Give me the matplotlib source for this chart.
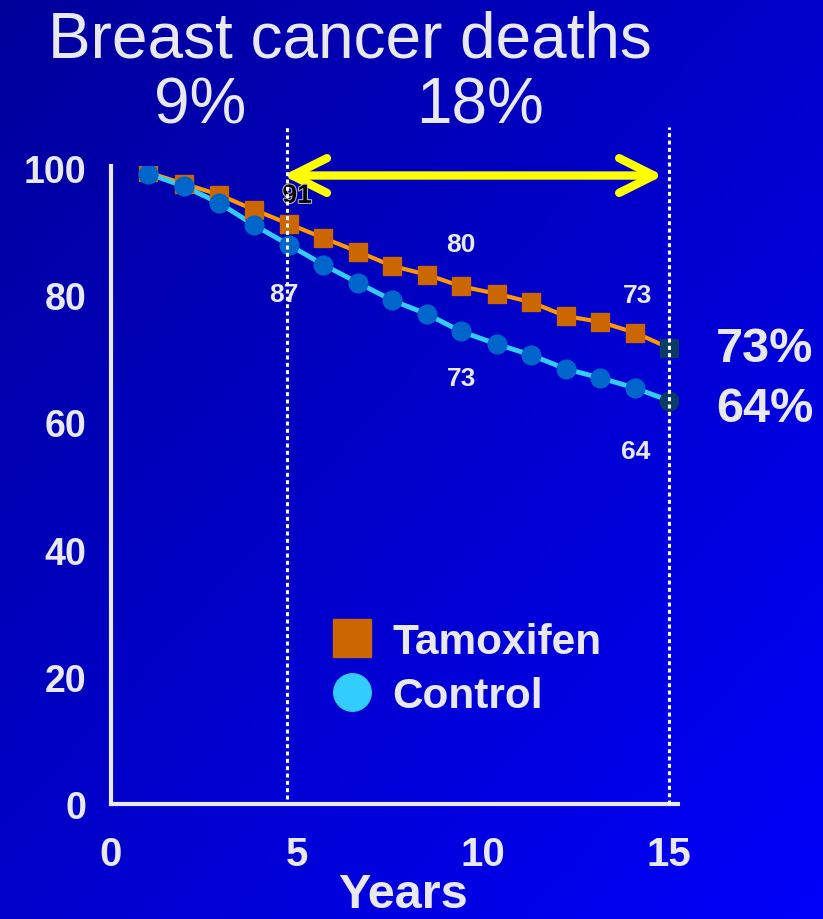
import numpy as np
import matplotlib
matplotlib.use('Agg')
import matplotlib.pyplot as plt
import matplotlib.patheffects as pe
from matplotlib.lines import Line2D

plt.rcParams['font.family'] = ['Liberation Sans', 'DejaVu Sans']

# ============================================
# Data
# ============================================
years = [0.99, 1.96, 2.9, 3.85, 4.78, 5.7, 6.65, 7.55, 8.5, 9.4,
         10.37, 11.28, 12.22, 13.14, 14.08, 15.0]
tamoxifen = [99.3, 97.5, 95.8, 93.4, 91.2, 89.0, 86.8, 84.6, 83.2, 81.4,
             80.2, 78.9, 76.7, 75.8, 74.1, 71.7]
control = [99.1, 97.1, 94.5, 91.0, 87.9, 84.8, 81.9, 79.2, 77.0, 74.3,
           72.3, 70.6, 68.4, 67.0, 65.4, 63.4]

x_ticks = [0, 5, 10, 15]
y_ticks = [0, 20, 40, 60, 80, 100]
cutoff_years = [4.73, 15.0]

point_labels = ['91', '87', '80', '73', '73', '64']
point_label_x = [5.0, 4.65, 9.41, 9.41, 14.14, 14.11]
point_label_y = [95.6, 80.2, 88.1, 67.0, 80.0, 55.5]

final_pct = ['73%', '64%']
period_pct = ['9%', '18%']

TXT = '#E8E8EE'
ORANGE_LINE, ORANGE_MK = '#FF9900', '#CC6600'
CYAN_LINE, CYAN_MK = '#33CCFF', '#0066CC'
NAVY = '#0A3A66'

# ============================================
# Figure + gradient background
# ============================================
fig = plt.figure(figsize=(8.23, 9.2), dpi=100)

bg = fig.add_axes([0, 0, 1, 1])
gx, gy = np.meshgrid(np.linspace(0, 1, 300), np.linspace(0, 1, 300))
t = (gx + gy) / 2
grad = np.zeros((300, 300, 3))
grad[..., 2] = (155 + 95 * t) / 255
bg.imshow(grad, aspect='auto', extent=[0, 1, 0, 1])
bg.set_axis_off()

ax = fig.add_axes([0.1349, 0.125, 0.689, 0.6935])
ax.patch.set_alpha(0)

# lines + markers (last point drawn dark)
ax.plot(years, tamoxifen, color=ORANGE_LINE, lw=3, zorder=3)
ax.plot(years[:-1], tamoxifen[:-1], 's', color=ORANGE_MK, ms=13, zorder=4)
ax.plot(years[-1:], tamoxifen[-1:], 's', color=NAVY, ms=13, zorder=4)
ax.plot(years, control, color=CYAN_LINE, lw=3.5, zorder=3)
ax.plot(years[:-1], control[:-1], 'o', color=CYAN_MK, ms=13.5, zorder=4)
ax.plot(years[-1:], control[-1:], 'o', color=NAVY, ms=13.5, zorder=4)

# dotted cut-off lines
ax.plot([cutoff_years[0]] * 2, [0.8, 106.5], color='white', lw=2.2,
        dashes=(1.3, 1.1), clip_on=False, zorder=6)
ax.plot([cutoff_years[1]] * 2, [0, 106.5], color='white', lw=2.2,
        dashes=(1.3, 1.1), clip_on=False, zorder=6)

# yellow double arrow
ax.annotate('', xy=(4.62, 98.8), xytext=(14.84, 98.8),
            arrowprops=dict(arrowstyle='<->,head_length=1.0,head_width=0.5',
                            color='#FFFF00', lw=6, mutation_scale=25,
                            shrinkA=0, shrinkB=0, capstyle='round',
                            joinstyle='round'),
            annotation_clip=False, zorder=5)

# point labels
for i, lab in enumerate(point_labels):
    if i == 0:
        ax.text(point_label_x[i], point_label_y[i], lab, color='black',
                fontsize=19, fontweight='bold', ha='center', va='center',
                zorder=5, path_effects=[pe.withStroke(linewidth=1.5, foreground='#BBBBBB')])
    else:
        ax.text(point_label_x[i], point_label_y[i], lab, color=TXT,
                fontsize=19, fontweight='bold', ha='center', va='center', zorder=5)

# axes styling
ax.set_xlim(0, 15.24)
ax.set_ylim(0, 100.3)
ax.set_xticks(x_ticks)
ax.set_yticks(y_ticks)
for s in ['top', 'right']:
    ax.spines[s].set_visible(False)
for s in ['left', 'bottom']:
    ax.spines[s].set_color(TXT)
    ax.spines[s].set_linewidth(3)
ax.tick_params(axis='x', length=0, pad=22, labelsize=29, labelcolor=TXT)
ax.tick_params(axis='y', length=0, pad=18, labelsize=27, labelcolor=TXT)
for lab in ax.get_xticklabels() + ax.get_yticklabels():
    lab.set_fontweight('bold')

# legend
handles = [Line2D([], [], marker='s', color=ORANGE_MK, ms=27, ls='none'),
           Line2D([], [], marker='o', color=CYAN_LINE, ms=27, ls='none')]
leg = ax.legend(handles, ['Tamoxifen', 'Control'], loc='upper left',
                bbox_to_anchor=(331 / 823, 1 - 623 / 920),
                bbox_transform=fig.transFigure, frameon=False,
                prop=dict(size=30.5, weight='bold'), labelcolor=TXT,
                handlelength=1.0, handletextpad=0.45, labelspacing=0.32,
                borderpad=0, borderaxespad=0)

# titles and side texts
fig.text(350 / 823, 1 - 57 / 920, 'Breast cancer deaths', color=TXT,
         fontsize=46, ha='center', va='baseline')
fig.text(200 / 823, 1 - 124 / 920, period_pct[0], color=TXT,
         fontsize=46, ha='center', va='baseline')
fig.text(480 / 823, 1 - 124 / 920, period_pct[1], color=TXT,
         fontsize=46, ha='center', va='baseline')
fig.text(716 / 823, 1 - 362 / 920, final_pct[0], color=TXT,
         fontsize=35, fontweight='bold', ha='left', va='baseline')
fig.text(716 / 823, 1 - 422 / 920, final_pct[1], color=TXT,
         fontsize=35, fontweight='bold', ha='left', va='baseline')
fig.text(403 / 823, 1 - 908 / 920, 'Years', color=TXT,
         fontsize=35, fontweight='bold', ha='center', va='baseline')

fig.savefig('out.png', dpi=100)
